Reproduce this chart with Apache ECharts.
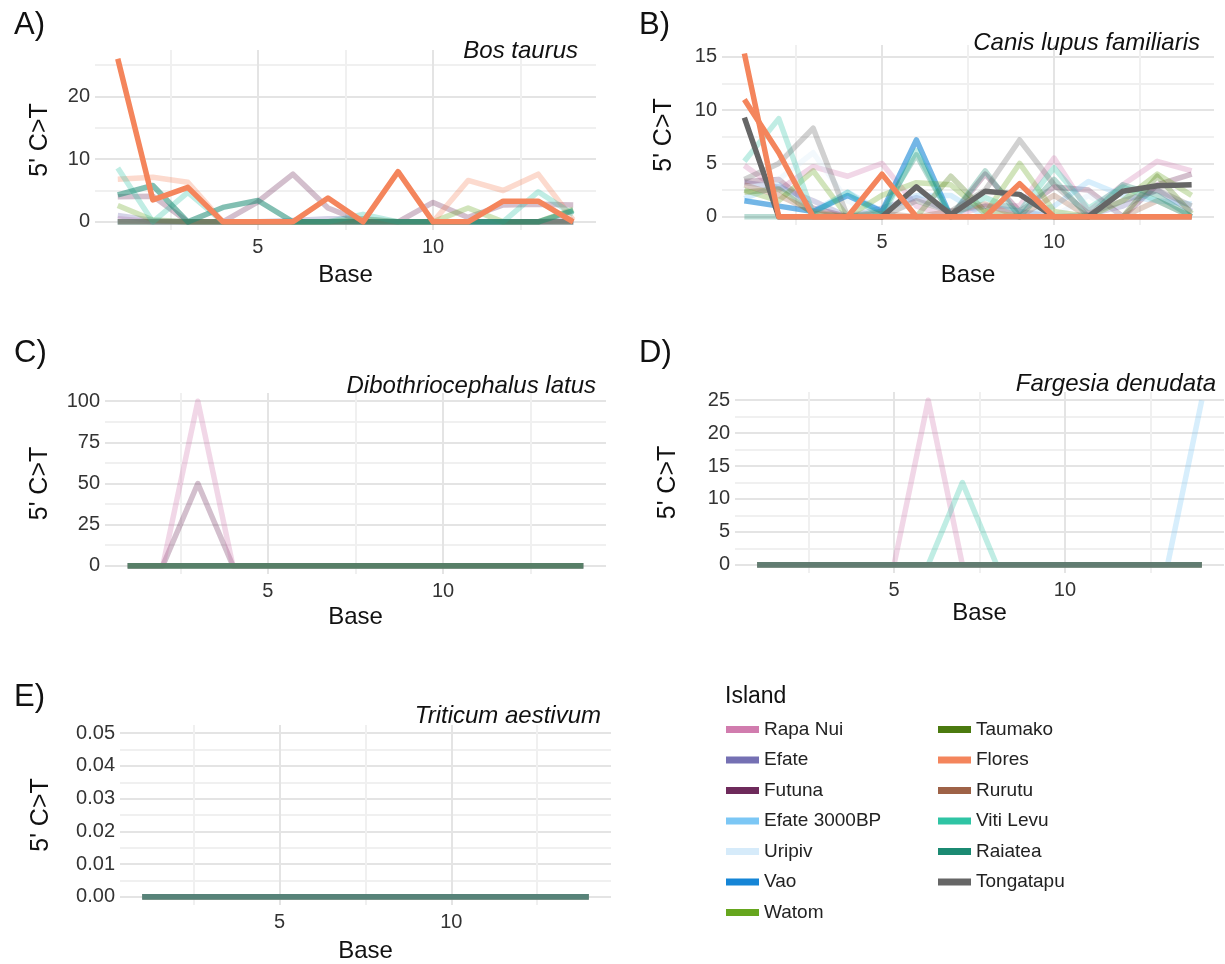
<!DOCTYPE html>
<html><head><meta charset="utf-8">
<script src="https://cdn.jsdelivr.net/npm/echarts@6/dist/echarts.min.js"></script>
<style>html,body{margin:0;padding:0;background:#fff}#chart{width:1225px;height:964px}</style>
</head><body><div id="chart"></div>
<script>
// ---------- data ----------
const bases = [1,2,3,4,5,6,7,8,9,10,11,12,13,14];
const islands = ['Rapa Nui','Efate','Futuna','Efate 3000BP','Uripiv','Vao','Watom','Taumako','Flores','Rurutu','Viti Levu','Raiatea','Tongatapu'];
const islandColors = ['#d17cae','#7570b3','#6e2a5b','#7cc7f5','#d6ebfa','#1585d6','#66a61e','#4b7a0f','#f4855c','#9e6247','#2fc4a4','#1b8a72','#666666'];
const zeroLine = [0,0,0,0,0,0,0,0,0,0,0,0,0,0];

// A) Bos taurus
const bos_RapaNui  = [0.5,0,0,0,0,0,0,0,0,0,0,0,0,0];
const bos_Efate    = [1.0,0.2,0,0,0,0.2,0.5,0.5,0,0,0,0,0,0.3];
const bos_Futuna   = [4.0,4.1,0,0,3.2,7.6,2.2,0,0,3.1,0.7,2.7,2.8,2.7];
const bos_Watom    = [2.6,0.3,0,0,0,0,0,0.4,0,0,2.2,0,0,2.0];
const bos_Flores   = [26,3.5,5.5,0,0,0,3.8,0,8,0,0,3.3,3.3,0];
const bos_Flores2  = [6.8,7.1,6.3,0,0,0,0,0,0,0,6.6,5.0,7.6,0.3];
const bos_VitiLevu = [8.6,0,4.7,0,0,0,0,1.2,0,0,0,0,4.8,1.2];
const bos_Raiatea  = [4.3,5.8,0,2.3,3.4,0,0,0,0,0,0,0,0,1.8];

// B) Canis lupus familiaris
const canis_RapaNui     = [4.8,2.5,4.7,3.8,5.0,1.0,0,1.0,1.0,5.5,0.5,3.0,5.2,4.3];
const canis_Efate       = [3.2,2.8,1.5,0,0.8,1.8,0.5,1.0,0.5,0,0.2,1.0,2.5,0.5];
const canis_Futuna      = [3.3,3.5,0.8,0,0,0,0,4.0,0.5,2.8,2.5,0,3.0,4.0];
const canis_Efate3000BP = [1.7,3.0,0.5,2.3,0.5,2.0,2.0,0,0,1.0,3.3,2.0,1.5,1.2];
const canis_Uripiv      = [2.5,3.5,6.0,1.5,0,0,0,0,0,0,2.0,0,0,0];
const canis_Vao         = [1.5,1.0,0.5,2.0,0.5,7.2,0,0,0,0,0,0,0,0];
const canis_Watom       = [2.5,1.5,4.3,0,2.0,3.2,3.0,0.3,5.0,0.5,0,1.5,4.0,2.0];
const canis_Taumako     = [2.3,2.6,0.3,0,0,0,3.8,0.5,0,0,0,0,3.8,0.3];
const canis_Flores      = [15.3,0,0,0,4.0,0,0,0,0,0,0,0,0,0];
const canis_Flores2     = [11,6.0,0,0,0,0,0,0,3.1,0,0,0,0,0];
const canis_Rurutu      = [3.0,2.0,0.5,0,0.3,0,0.5,1.2,0,2.0,0,0,1.5,0];
const canis_VitiLevu    = [5.2,9.2,0.3,2.3,0,6.2,0,1.8,0.5,4.6,0.8,2.8,1.5,0];
const canis_Raiatea     = [0,0,0,0,0.5,5.8,0,4.3,0,3.5,0,3.0,2.0,0];
const canis_Tongatapu   = [9.3,0,0,0,0,2.8,0.2,2.4,2.1,0,0,2.4,2.9,3.0];
const canis_Tongatapu2  = [3.5,5.0,8.3,0,0,1.5,0.5,2.5,7.2,3.0,0.3,1.5,2.5,1.0];

// C) Dibothriocephalus latus
const dib_RapaNui = [0,0,100,0,0,0,0,0,0,0,0,0,0,0];
const dib_Futuna  = [0,0,50,0,0,0,0,0,0,0,0,0,0,0];

// D) Fargesia denudata
const far_RapaNui     = [0,0,0,0,0,25,0,0,0,0,0,0,0,0];
const far_VitiLevu    = [0,0,0,0,0,0,12.5,0,0,0,0,0,0,0];
const far_Efate3000BP = [0,0,0,0,0,0,0,0,0,0,0,0,0,25];

// axis ticks
const xMajor = [5, 10];
const xMinor = [2.5, 7.5, 12.5];
const xRange = [0.35, 14.65];
const bosY = {range: [-1.3, 27.4], major: [0, 10, 20], minor: [5, 15, 25]};
const canisY = {range: [-0.77, 16.1], major: [0, 5, 10, 15], minor: [2.5, 7.5, 12.5]};
const dibY = {range: [-5, 105], major: [0, 25, 50, 75, 100], minor: [12.5, 37.5, 62.5, 87.5]};
const farY = {range: [-1.25, 26.25], major: [0, 5, 10, 15, 20, 25], minor: [2.5, 7.5, 12.5, 17.5, 22.5]};
const triY = {range: [-0.0025, 0.0525], major: [0, 0.01, 0.02, 0.03, 0.04, 0.05], minor: [0.005, 0.015, 0.025, 0.035, 0.045]};

// ---------- layout ----------
const FONT = 'Liberation Sans, Arial, sans-serif';
const grids = [
  {left: 95,  top: 50,  width: 501, height: 180},
  {left: 722, top: 45,  width: 492, height: 180},
  {left: 105, top: 393, width: 501, height: 181},
  {left: 735, top: 392, width: 489, height: 181},
  {left: 120, top: 725, width: 491, height: 182}
];
const yNameGap = [42, 45, 52, 54, 66];
const xNameGap = [33, 38, 31, 28, 34];
const yConf = [bosY, canisY, dibY, farY, triY];

const MAJOR_C = '#e4e4e4', MINOR_C = '#f0f0f0';
function splitColors(all, majors) { return all.map(v => majors.includes(v) ? MAJOR_C : MINOR_C); }

const xAxes = [], yAxes = [];
grids.forEach((g, i) => {
  const xt = xMajor.concat(xMinor).sort((a,b)=>a-b);
  xAxes.push({
    type: 'value', gridIndex: i, min: xRange[0], max: xRange[1],
    axisLine: {show: false},
    axisTick: {show: false, customValues: xt},
    axisLabel: {customValues: xMajor, fontSize: 20, color: '#333', fontFamily: FONT, margin: 7},
    splitLine: {show: true, customValues: xt, lineStyle: {color: splitColors(xt, xMajor), width: 2}},
    name: 'Base', nameLocation: 'middle', nameGap: xNameGap[i],
    nameTextStyle: {fontSize: 24, color: '#111', fontFamily: FONT}
  });
  const yc = yConf[i];
  const yt = yc.major.concat(yc.minor).sort((a,b)=>a-b);
  yAxes.push({
    type: 'value', gridIndex: i, min: yc.range[0], max: yc.range[1],
    axisLine: {show: false},
    axisTick: {show: false, customValues: yt},
    axisLabel: {customValues: yc.major, fontSize: 20, color: '#333', fontFamily: FONT, margin: 5,
      formatter: i === 4 ? (v => Number(v).toFixed(2)) : (v => String(Math.round(v*100)/100))},
    splitLine: {show: true, customValues: yt, lineStyle: {color: splitColors(yt, yc.major), width: 2}},
    name: "5' C>T", nameLocation: 'middle', nameRotate: 90, nameGap: yNameGap[i],
    nameTextStyle: {fontSize: 25, color: '#111', fontFamily: FONT}
  });
});

const series = [];
function colorOf(name) { return islandColors[islands.indexOf(name)]; }
function add(gi, name, values, alpha) {
  series.push({
    type: 'line', name: name, xAxisIndex: gi, yAxisIndex: gi,
    data: bases.map((b, k) => [b, values[k]]),
    symbol: 'none', showSymbol: false, silent: true, animation: false,
    lineStyle: {color: colorOf(name), width: 5.5, opacity: alpha, cap: 'butt', join: 'round'},
    itemStyle: {color: colorOf(name)},
    z: alpha > 0.9 ? 5 : 2
  });
}
const F = 0.3;
// A
add(0,'Rapa Nui',bos_RapaNui,F); add(0,'Efate',bos_Efate,F); add(0,'Futuna',bos_Futuna,F);
add(0,'Efate 3000BP',zeroLine,F); add(0,'Uripiv',zeroLine,F); add(0,'Vao',zeroLine,F);
add(0,'Watom',bos_Watom,F); add(0,'Taumako',zeroLine,F); add(0,'Flores',bos_Flores2,F);
add(0,'Rurutu',zeroLine,F); add(0,'Tongatapu',zeroLine,F); add(0,'Viti Levu',bos_VitiLevu,F);
add(0,'Raiatea',bos_Raiatea,0.55); add(0,'Flores',bos_Flores,1);
// B
add(1,'Rapa Nui',canis_RapaNui,F); add(1,'Efate',canis_Efate,F); add(1,'Futuna',canis_Futuna,F);
add(1,'Efate 3000BP',canis_Efate3000BP,F); add(1,'Uripiv',canis_Uripiv,F); add(1,'Vao',canis_Vao,0.6);
add(1,'Watom',canis_Watom,F); add(1,'Taumako',canis_Taumako,F); add(1,'Rurutu',canis_Rurutu,F);
add(1,'Viti Levu',canis_VitiLevu,F); add(1,'Raiatea',canis_Raiatea,F); add(1,'Tongatapu',canis_Tongatapu2,F);
add(1,'Tongatapu',canis_Tongatapu,1); add(1,'Flores',canis_Flores2,1); add(1,'Flores',canis_Flores,1);
// C (peaks first, flat lines drawn over them)
add(2,'Futuna',dib_Futuna,F); add(2,'Rapa Nui',dib_RapaNui,F);
['Efate 3000BP','Uripiv','Vao','Watom','Viti Levu','Flores','Rurutu','Efate','Taumako','Tongatapu','Raiatea']
  .forEach(n => add(2, n, zeroLine, F));
// D
add(3,'Rapa Nui',far_RapaNui,F); add(3,'Viti Levu',far_VitiLevu,F); add(3,'Efate 3000BP',far_Efate3000BP,F);
['Futuna','Uripiv','Vao','Watom','Taumako','Flores','Rurutu','Efate','Tongatapu','Raiatea']
  .forEach(n => add(3, n, zeroLine, F));
// E
['Rapa Nui','Futuna','Efate 3000BP','Uripiv','Vao','Watom','Taumako','Flores','Rurutu','Viti Levu','Efate','Tongatapu','Raiatea']
  .forEach(n => add(4, n, zeroLine, F));

const letterStyle = {fontSize: 31, fontWeight: 'normal', color: '#111', fontFamily: FONT};
const spStyle = {fontSize: 24, fontWeight: 'normal', fontStyle: 'italic', color: '#111', fontFamily: FONT};
const titles = [
  {text: 'A)', left: 14, top: 10, padding: 0, textStyle: letterStyle},
  {text: 'B)', left: 639, top: 10, padding: 0, textStyle: letterStyle},
  {text: 'C)', left: 14, top: 338, padding: 0, textStyle: letterStyle},
  {text: 'D)', left: 639, top: 338, padding: 0, textStyle: letterStyle},
  {text: 'E)', left: 14, top: 682, padding: 0, textStyle: letterStyle},
  {text: 'Bos taurus', right: 647, top: 39, padding: 0, textStyle: spStyle},
  {text: 'Canis lupus familiaris', right: 25, top: 31, padding: 0, textStyle: spStyle},
  {text: 'Dibothriocephalus latus', right: 629, top: 374, padding: 0, textStyle: spStyle},
  {text: 'Fargesia denudata', right: 9, top: 372, padding: 0, textStyle: spStyle},
  {text: 'Triticum aestivum', right: 624, top: 704, padding: 0, textStyle: spStyle},
  {text: 'Island', left: 725, top: 685, padding: 0, textStyle: {fontSize: 23, fontWeight: 'normal', color: '#111', fontFamily: FONT}}
];
function legendData(names) { return names.map(n => ({name: n, itemStyle: {color: colorOf(n), opacity: 1}})); }
const legBase = {orient: 'vertical', itemWidth: 33, itemHeight: 7, itemGap: 11.5, icon: 'rect', selectedMode: false,
  textStyle: {fontSize: 19, color: '#222', fontFamily: FONT}, itemStyle: {opacity: 1, borderWidth: 0}, padding: 0};
const legends = [
  Object.assign({}, legBase, {left: 726, top: 720, data: legendData(islands.slice(0, 7))}),
  Object.assign({}, legBase, {left: 938, top: 720, data: legendData(islands.slice(7))})
];

const chart = echarts.init(document.getElementById('chart'), null, {renderer: 'canvas'});
chart.setOption({
  backgroundColor: '#fff', animation: false,
  title: titles, legend: legends, grid: grids, xAxis: xAxes, yAxis: yAxes, series: series
});
</script></body></html>
